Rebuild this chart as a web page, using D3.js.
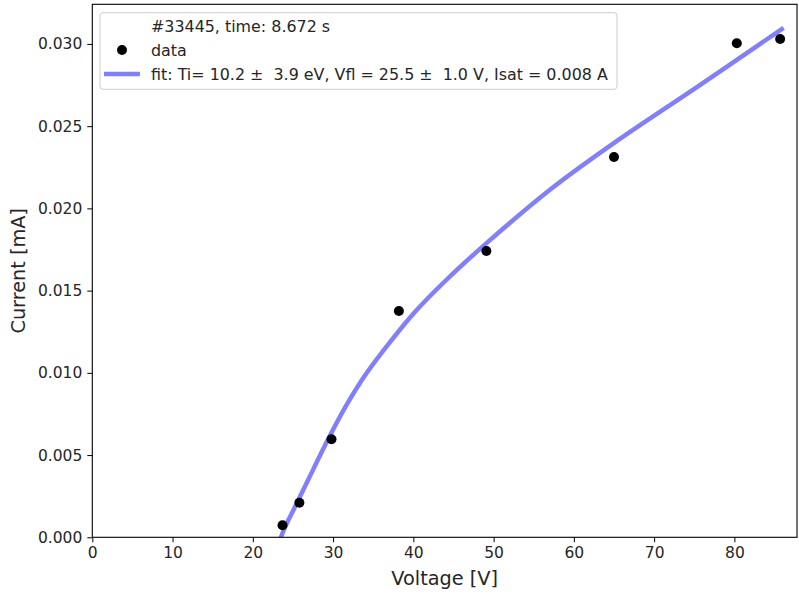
<!DOCTYPE html>
<html><head><meta charset="utf-8">
<script src="https://cdn.jsdelivr.net/npm/d3@7"></script>
<style>
html,body{margin:0;padding:0;background:#fff;}
text{font-family:"DejaVu Sans",sans-serif;white-space:pre;}
</style></head>
<body>
<svg id="chart" width="799" height="595"></svg>
<script>
// data
const dataV = [23.7, 25.8, 29.8, 38.2, 49.1, 65.0, 80.3, 85.7];
const dataI = [0.00073, 0.0021, 0.00596, 0.01376, 0.01741, 0.02313, 0.03004, 0.0303];
// fit curve
const fitV = [23.5, 24, 25, 26, 27.5, 29, 31.5, 34.2, 37.3, 40, 44, 49.15, 57.45, 65.35, 75.7, 85.9];
const fitI = [0.0, 0.0006, 0.0016, 0.0026, 0.0041, 0.0056, 0.0079, 0.0100, 0.0120, 0.0136, 0.0156, 0.0179, 0.0213, 0.0241, 0.0275, 0.0309];
const xTicks = [0, 10, 20, 30, 40, 50, 60, 70, 80];
const yTicks = [0, 0.005, 0.010, 0.015, 0.020, 0.025, 0.030];
const legendLabels = ["#33445, time: 8.672 s", "data", "fit: Ti= 10.2 \u00b1  3.9 eV, Vfl = 25.5 \u00b1  1.0 V, Isat = 0.008 A"];
const xLabel = "Voltage [V]";
const yLabel = "Current [mA]";

const svg = d3.select("#chart");
const L = 92.3, R = 797, T = 4.3, B = 537.3;
const x = d3.scaleLinear().domain([0, 87.8]).range([L, R]);
const y = d3.scaleLinear().domain([0, 0.03241]).range([B, T]);

svg.append("clipPath").attr("id","clip").append("rect")
  .attr("x", L).attr("y", T).attr("width", R-L).attr("height", B-T);

// fit line
const pts = fitV.map((v,i)=>[v, fitI[i]]);
svg.append("path").attr("clip-path","url(#clip)")
  .datum(pts)
  .attr("d", d3.line().x(d=>x(d[0])).y(d=>y(d[1])).curve(d3.curveCatmullRom.alpha(0.5)))
  .attr("fill","none").attr("stroke","#0000ff").attr("stroke-opacity",0.5)
  .attr("stroke-width",4.5).attr("stroke-linecap","square");

// data points
svg.append("g").selectAll("circle").data(dataV.map((v,i)=>[v,dataI[i]])).join("circle")
  .attr("cx", d=>x(d[0])).attr("cy", d=>y(d[1])).attr("r", 5).attr("fill","#000");

// axes
const xAxis = d3.axisBottom(x).tickValues(xTicks).tickSize(5).tickPadding(5).tickFormat(d3.format("d"));
const gx = svg.append("g").attr("transform",`translate(0,${B})`).call(xAxis);
const yAxis = d3.axisLeft(y).tickValues(yTicks).tickSize(5).tickPadding(5).tickFormat(d3.format(".3f"));
const gy = svg.append("g").attr("transform",`translate(${L},0)`).call(yAxis);
[gx, gy].forEach(g=>{
  g.select(".domain").remove();
  g.selectAll("line").attr("stroke","#000").attr("stroke-width",1);
  g.selectAll("text").attr("font-size","15.5px").attr("fill","#262626").style("font-family","DejaVu Sans");
});
// frame
svg.append("rect").attr("x",L).attr("y",T).attr("width",R-L).attr("height",B-T)
  .attr("fill","none").attr("stroke","#000").attr("stroke-width",1.1);

// labels
svg.append("text").attr("x",(L+R)/2).attr("y",585).attr("text-anchor","middle")
  .attr("font-size","19.3px").attr("fill","#262626").text(xLabel);
svg.append("text").attr("transform",`translate(24.5,${(T+B)/2}) rotate(-90)`).attr("text-anchor","middle")
  .attr("font-size","19.3px").attr("fill","#262626").text(yLabel);

// legend
const lg = svg.append("g");
lg.append("rect").attr("x",100).attr("y",12.7).attr("width",517).attr("height",76.6)
  .attr("rx",3).attr("fill","#fff").attr("fill-opacity",0.8).attr("stroke","#cccccc");
const rowY = [26, 50, 74];
legendLabels.forEach((t,i)=>{
  lg.append("text").attr("x",151).attr("y",rowY[i]).attr("dy","0.35em")
    .attr("font-size","15.9px").attr("fill","#262626").attr("xml:space","preserve").text(t);
});
lg.append("circle").attr("cx",122).attr("cy",rowY[1]).attr("r",5).attr("fill","#000");
lg.append("line").attr("x1",104).attr("x2",140).attr("y1",rowY[2]).attr("y2",rowY[2])
  .attr("stroke","#0000ff").attr("stroke-opacity",0.5).attr("stroke-width",4.5);
</script>
</body></html>
